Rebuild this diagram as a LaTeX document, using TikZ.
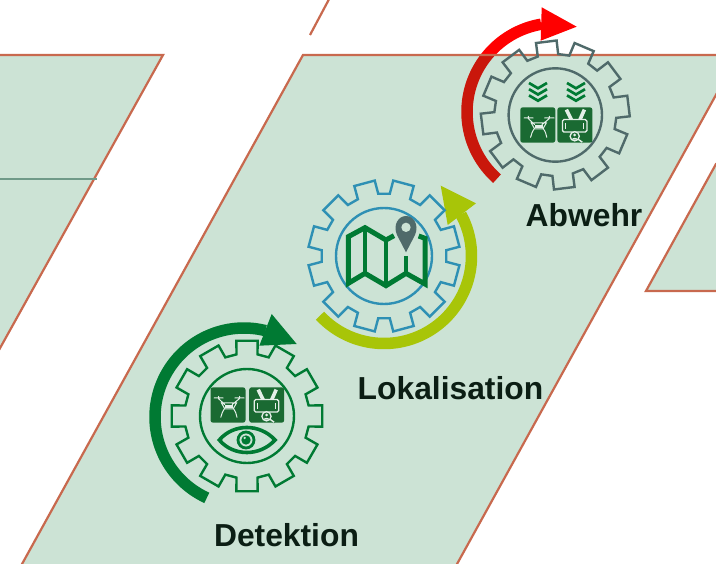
\documentclass[tikz,border=0pt]{standalone}
\usepackage{fontspec}
\setmainfont{Liberation Sans}
\definecolor{panel}{HTML}{CCE3D5}
\definecolor{edge}{HTML}{C8694E}
\definecolor{hairline}{HTML}{6F9A88}
\definecolor{dgreen}{HTML}{007A33}
\definecolor{boxgreen}{HTML}{1A6A32}
\definecolor{lime}{HTML}{A8C508}
\definecolor{gblue}{HTML}{2E90B4}
\definecolor{slate}{HTML}{4F6A6A}
\definecolor{brick}{HTML}{C9170B}
\definecolor{txt}{HTML}{0B1E14}
\definecolor{iconline}{HTML}{E4EFE8}
\tikzset{
  panelshape/.style={fill=panel,draw=edge,line width=2.2pt,line join=miter},
  gearline/.style={line width=2.4pt,line join=miter},
  label/.style={font=\fontsize{31.8}{34}\selectfont\bfseries,text=txt,inner sep=0pt,anchor=base},
  band/.style={line width=11.5pt,line cap=butt}
}
% gear: cx, cy, rotation, colour, inner radius, outer radius
\newcommand{\gearshape}[6]{%
  \draw[gearline,#4]
    ({#1+(#6-13.5)*cos(#3-9.7)},{#2-(#6-13.5)*sin(#3-9.7)})
    \foreach \k in {0,...,11}{
      -- ({#1+(#6-13.5)*cos(#3+30*\k-9.7)},{#2-(#6-13.5)*sin(#3+30*\k-9.7)})
      -- ({#1+#6*cos(#3+30*\k-8)},{#2-#6*sin(#3+30*\k-8)})
      -- ({#1+#6*cos(#3+30*\k+8)},{#2-#6*sin(#3+30*\k+8)})
      -- ({#1+(#6-13.5)*cos(#3+30*\k+9.7)},{#2-(#6-13.5)*sin(#3+30*\k+9.7)})
    } -- cycle;
  \draw[gearline,#4] (#1,#2) circle[radius=#5];
}
% drone tile at top-left corner
\newcommand{\dronetile}[2]{%
  \begin{scope}[shift={(#1,#2)}]
    \fill[boxgreen,rounded corners=2.5pt] (0,0) rectangle (35,35.4);
    \draw[iconline,line width=1pt,line cap=round]
      (3.7,10.7) -- (12.7,10.7) (24.3,10.7) -- (33.7,10.7)
      (8,9) -- (8,11) (29,9) -- (29,11)
      (8,11.3) -- (14.3,17.3) (29,11.3) -- (21.7,17.3)
      (11,15.7) -- (26,15.7) -- (22.7,21.5) -- (14.3,21.5) -- cycle
      (14.3,21) .. controls (12,24) and (11,27) .. (10.3,30)
      (22.7,21) .. controls (25,24) and (26,27) .. (26.5,30);
    \fill[iconline] (14.5,18) rectangle (22.5,21);
  \end{scope}
}
% controller tile at top-left corner
\newcommand{\controltile}[2]{%
  \begin{scope}[shift={(#1,#2)}]
    \fill[boxgreen,rounded corners=2.5pt] (0,0) rectangle (35,35.4);
    \draw[iconline,line width=3.6pt] (9,2.3) -- (14,12.5) (27,2.3) -- (22.5,12.5);
    \draw[iconline,line width=1.3pt,rounded corners=1.5pt,fill=boxgreen] (5,12.3) rectangle (29.5,24.7);
    \draw[iconline,line width=1pt] (8,15.5) -- (8,21.5) (26.5,15.5) -- (26.5,21.5);
    \draw[boxgreen,line width=2.4pt] (17.3,29) -- (25.5,35);
    \draw[iconline,line width=1.4pt] (19.5,31) -- (25,35);
    \draw[iconline,line width=1.3pt,fill=boxgreen] (17.3,29) circle[radius=4.6];
    \fill[iconline] (17.3,27.7) circle[radius=1.5];
    \fill[iconline] (14.2,32.3) .. controls (15,30) and (19.6,30) .. (20.4,32.3) -- cycle;
  \end{scope}
}
% three chevrons
\newcommand{\chevrons}[2]{%
  \foreach \d in {0,6.2,12.4}{
    \draw[dgreen,line width=2.7pt,line join=miter] (#1-9,#2+\d) -- (#1,#2+\d+5.3) -- (#1+9,#2+\d);
  }
}
\begin{document}
\begin{tikzpicture}[x=1pt,y=-1pt]
\useasboundingbox (0,0) rectangle (716,564);
\fill[white] (0,0) rectangle (716,564);
\clip (0,0) rectangle (716,564);

% background panels
\draw[panelshape] (-40,55) -- (163,55) -- (-120,564) -- (-120,55) -- cycle;
\draw[hairline,line width=1.3pt] (-5,179) -- (97,179);
\draw[edge,line width=2.2pt] (335,-12) -- (310,35);
\draw[panelshape] (760,164) -- (716,164) -- (646,291) -- (760,291);
\fill[panel] (303,55) -- (738,55) -- (448.2,580) -- (13.2,580) -- cycle;

% Abwehr arrow: darker where it lies on the panel
\begin{scope}
  \clip (440,55) rectangle (716,300);
  \draw[band,brick] plot[smooth,samples=50,domain=228.5:99.6] ({556+89*cos(\x)},{112-89*sin(\x)});
\end{scope}
\begin{scope}
  \clip (440,-5) rectangle (716,55);
  \draw[band,red] plot[smooth,samples=50,domain=228.5:99.6] ({556+89*cos(\x)},{112-89*sin(\x)});
\end{scope}
\fill[red] (541.7,7.3) -- (576.7,26.7) -- (540.7,40.7) -- cycle;

\draw[edge,line width=2.2pt] (13.2,580) -- (303,55) -- (738,55) -- (448.2,580);

% Detektion
\draw[band,dgreen] plot[smooth,samples=50,domain=245.3:76] ({244+89*cos(\x)},{417-89*sin(\x)});
\fill[dgreen] (271.7,314) -- (296.7,344) -- (259.3,345.7) -- cycle;
\gearshape{247}{416}{90}{dgreen}{47}{76}
\dronetile{210.5}{387.3}
\controltile{249.2}{387.3}
\begin{scope}[shift={(140,310)},scale=1/3]
  \draw[dgreen,line width=3.6pt,fill=panel] (238,390) .. controls (280,340) and (360,340) .. (405,390) .. controls (360,440) and (280,440) .. (238,390) -- cycle;
  \draw[dgreen,line width=2.8pt] (318,390) circle[radius=24];
  \fill[dgreen] (318,390) circle[radius=14];
  \fill[panel] (314,384) circle[radius=4];
\end{scope}

% Lokalisation
\draw[band,lime] plot[smooth,samples=50,domain=223:388.4] ({384+87.5*cos(\x)},{256-87.5*sin(\x)});
\fill[lime] (440.7,185.7) -- (476,203.3) -- (447.7,225) -- cycle;
\gearshape{384}{256}{15}{gblue}{48}{76}
\begin{scope}[shift={(300,170)},scale=1/3]
  \draw[dgreen,line width=5pt,line join=miter]
    (282,197) -- (258,210) -- (195,173) -- (145,200) -- (145,340)
    -- (195,310) -- (258,347) -- (318,310) -- (375,342) -- (375,205) -- (356,198);
  \draw[dgreen,line width=4.5pt] (195,173) -- (195,310) (258,210) -- (258,347) (318,258) -- (318,310);
  \fill[slate] (318,247) -- (291,195) .. controls (278,165) and (295,138) .. (318,138)
     .. controls (341,138) and (358,165) .. (345,195) -- cycle;
  \fill[panel] (318,172) circle[radius=14];
\end{scope}

% Abwehr
\gearshape{555.3}{115}{7}{slate}{46.7}{74.5}
\chevrons{538}{83}
\chevrons{576}{83}
\dronetile{520.3}{107.3}
\controltile{557.4}{107.3}

% labels
\node[label] (detektion) at (286.5,546) {Detektion};
\node[label] (lokalisation) at (450.5,400) {Lokalisation};
\node[label] (abwehr) at (584,227) {Abwehr};
\end{tikzpicture}
\end{document}
